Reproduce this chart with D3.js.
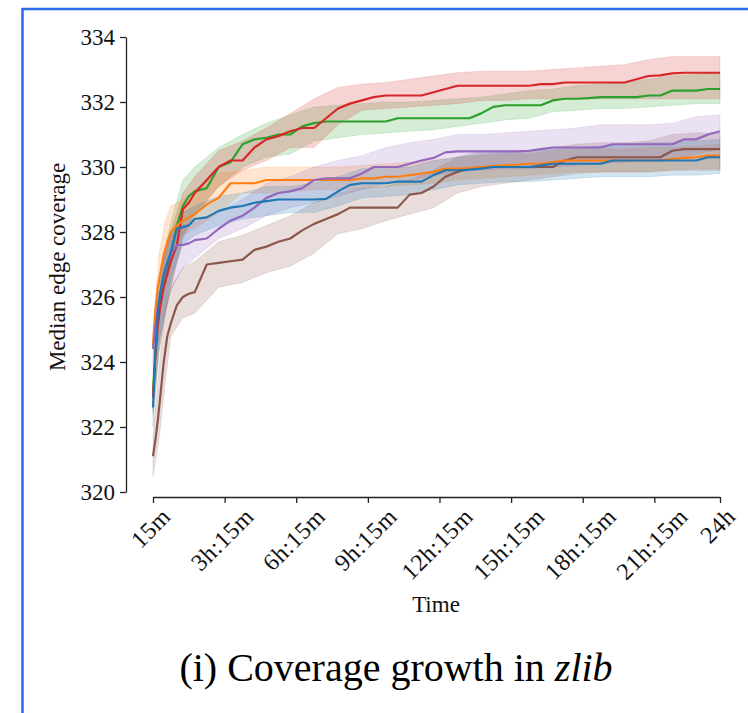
<!DOCTYPE html>
<html>
<head>
<meta charset="utf-8">
<script src="https://cdn.jsdelivr.net/npm/d3@7"></script>
<style>
    body {
        margin: 0;
        background: #fff;
        font-family: "Liberation Serif", "Times New Roman", serif;
    }
    svg { display: block; }
</style>
</head>
<body>
<svg id="chart" width="748" height="713"></svg>
<script>
// time in hours for the median lines
const lineTimes = [0.25, 0.35, 0.45, 0.55, 0.7, 0.85, 1, 1.25, 1.5, 1.75, 2,
    2.5, 3, 3.5, 4, 4.5, 5, 5.5, 6, 6.5, 7, 7.5, 8, 8.5, 9, 9.5, 10, 10.5, 11, 11.5, 12,
    12.5, 13, 13.5, 14, 14.5, 15, 15.5, 16, 16.5, 17, 17.5, 18, 18.5, 19, 19.5, 20,
    20.5, 21, 21.5, 22, 22.5, 23, 23.5, 24];

const redMedian = [322.9, 324.2, 325.1, 325.7, 326.3, 326.7, 327.1, 327.6, 328.7, 328.9, 329.2,
    329.6, 330.0, 330.2, 330.2, 330.6, 330.85, 330.95, 331.1, 331.2, 331.2, 331.5, 331.8, 331.95, 332.05, 332.15, 332.2, 332.2, 332.2, 332.2, 332.3,
    332.4, 332.5, 332.5, 332.5, 332.5, 332.5, 332.5, 332.5, 332.55, 332.55, 332.6, 332.6, 332.6, 332.6, 332.6, 332.6,
    332.7, 332.8, 332.82, 332.88, 332.9, 332.9, 332.9, 332.9];
const greenMedian = [323.05, 324.3, 325.2, 325.9, 326.5, 326.9, 327.3, 328.2, 328.8, 329.1, 329.25,
    329.35, 330.0, 330.15, 330.7, 330.85, 330.9, 331.0, 331.0, 331.25, 331.35, 331.4, 331.4, 331.4, 331.4, 331.4, 331.4, 331.5, 331.5, 331.5, 331.5,
    331.5, 331.5, 331.5, 331.65, 331.85, 331.9, 331.9, 331.9, 331.9, 332.05, 332.1, 332.1, 332.12, 332.15, 332.15, 332.15,
    332.15, 332.2, 332.2, 332.35, 332.35, 332.35, 332.4, 332.4];
const orangeMedian = [324.5, 325.6, 326.3, 326.7, 327.3, 327.7, 328.0, 328.2, 328.35, 328.45, 328.55,
    328.85, 329.05, 329.5, 329.5, 329.5, 329.6, 329.6, 329.6, 329.6, 329.6, 329.6, 329.6, 329.6, 329.65, 329.65, 329.7, 329.7, 329.75, 329.8, 329.85,
    329.95, 329.95, 329.97, 330.0, 330.03, 330.05, 330.07, 330.1, 330.1, 330.15, 330.2, 330.2, 330.2, 330.2, 330.2, 330.2,
    330.2, 330.2, 330.2, 330.25, 330.28, 330.3, 330.35, 330.35];
const blueMedian = [322.6, 324.3, 325.5, 326.1, 326.7, 327.05, 327.4, 328.1, 328.15, 328.2, 328.4,
    328.45, 328.65, 328.75, 328.8, 328.9, 328.95, 329.0, 329.0, 329.0, 329.0, 329.02, 329.25, 329.45, 329.5, 329.5, 329.5, 329.55, 329.55, 329.55, 329.75,
    329.9, 329.9, 329.92, 329.95, 330.0, 330.0, 330.0, 330.0, 330.05, 330.1, 330.1, 330.1, 330.1, 330.1, 330.2, 330.2,
    330.2, 330.2, 330.2, 330.2, 330.2, 330.2, 330.3, 330.3];
const purpleMedian = [324.4, 325.1, 325.7, 326.1, 326.6, 327.0, 327.3, 327.6, 327.6, 327.65, 327.75,
    327.8, 328.1, 328.35, 328.5, 328.75, 329.05, 329.2, 329.25, 329.35, 329.6, 329.65, 329.65, 329.65, 329.8, 330.0, 330.0, 330.0, 330.1, 330.2, 330.28,
    330.45, 330.48, 330.48, 330.48, 330.48, 330.48, 330.48, 330.5, 330.55, 330.6, 330.6, 330.6, 330.6, 330.6, 330.7, 330.7,
    330.7, 330.7, 330.7, 330.7, 330.85, 330.85, 331.0, 331.1];
const brownMedian = [321.1, 321.6, 322.2, 322.9, 324.0, 324.8, 325.2, 325.75, 326.0, 326.1, 326.15,
    327.0, 327.05, 327.1, 327.15, 327.45, 327.55, 327.7, 327.8, 328.05, 328.25, 328.4, 328.55, 328.75, 328.75, 328.75, 328.75, 328.75, 329.15, 329.2, 329.4,
    329.7, 329.85, 329.95, 330.0, 330.0, 330.0, 330.0, 330.0, 330.0, 330.0, 330.2, 330.3, 330.3, 330.3, 330.3, 330.3,
    330.3, 330.3, 330.3, 330.5, 330.55, 330.55, 330.55, 330.55];

// confidence bands, sampled on a coarser grid
const bandTimes = [0.25, 0.5, 0.75, 1, 1.5, 2, 3, 4, 5, 6, 7, 8, 9, 10, 11, 12, 13, 14, 15, 16, 17, 18, 19, 20, 21, 22, 23, 24];

const redLow  = [322.4, 324.3, 325.4, 326.3, 327.8, 328.5, 329.4, 329.9, 330.2, 330.6, 330.6, 331.3, 331.75, 331.8, 331.85, 331.9, 331.95, 332.05, 332.05, 332.1, 332.1, 332.1, 332.1, 332.1, 332.1, 332.1, 332.1, 332.1];
const redHigh = [323.4, 326.0, 327.2, 328.0, 329.2, 329.7, 330.5, 330.8, 331.2, 331.65, 332.1, 332.45, 332.55, 332.6, 332.7, 332.8, 332.9, 332.95, 332.95, 332.95, 333.0, 333.05, 333.1, 333.15, 333.3, 333.4, 333.4, 333.4];
const greenLow  = [322.5, 324.3, 325.5, 326.3, 327.9, 328.6, 329.4, 330.0, 330.3, 330.4, 330.8, 330.9, 331.0, 331.05, 331.1, 331.15, 331.25, 331.35, 331.45, 331.5, 331.7, 331.75, 331.8, 331.8, 331.85, 331.9, 331.95, 331.95];
const greenHigh = [323.6, 326.1, 327.4, 328.3, 329.6, 330.0, 330.6, 331.0, 331.35, 331.6, 331.85, 331.9, 331.95, 332.0, 332.0, 332.05, 332.1, 332.15, 332.25, 332.35, 332.4, 332.5, 332.55, 332.6, 332.7, 332.8, 332.85, 332.9];
const orangeLow  = [324.0, 325.5, 326.8, 327.4, 327.9, 328.1, 328.6, 329.2, 329.2, 329.25, 329.3, 329.3, 329.35, 329.4, 329.45, 329.5, 329.6, 329.65, 329.7, 329.75, 329.8, 329.85, 329.85, 329.85, 329.85, 329.9, 329.95, 329.95];
const orangeHigh = [325.0, 327.3, 328.3, 328.8, 329.0, 329.3, 329.8, 329.9, 330.0, 330.0, 330.0, 330.0, 330.05, 330.1, 330.15, 330.2, 330.3, 330.35, 330.4, 330.4, 330.5, 330.55, 330.55, 330.55, 330.6, 330.6, 330.65, 330.7];
const blueLow  = [322.0, 324.6, 325.6, 326.6, 327.6, 327.9, 328.2, 328.4, 328.5, 328.6, 328.6, 328.8, 329.05, 329.1, 329.15, 329.3, 329.45, 329.5, 329.55, 329.55, 329.6, 329.65, 329.7, 329.7, 329.7, 329.75, 329.75, 329.8];
const blueHigh = [323.2, 326.6, 327.3, 328.0, 328.6, 328.8, 329.1, 329.2, 329.4, 329.4, 329.5, 329.7, 329.95, 330.0, 330.0, 330.2, 330.3, 330.4, 330.45, 330.5, 330.55, 330.6, 330.65, 330.7, 330.75, 330.75, 330.8, 330.85];
const purpleLow  = [323.6, 324.6, 325.5, 326.2, 326.9, 327.2, 327.8, 328.1, 328.5, 328.75, 328.9, 329.1, 329.3, 329.5, 329.6, 329.75, 329.85, 329.9, 329.95, 329.95, 330.0, 330.05, 330.1, 330.15, 330.2, 330.25, 330.4, 330.55];
const purpleHigh = [324.9, 326.4, 327.3, 327.9, 328.2, 328.3, 328.6, 329.0, 329.5, 329.7, 330.0, 330.2, 330.35, 330.6, 330.75, 330.85, 331.0, 331.0, 331.05, 331.1, 331.15, 331.2, 331.3, 331.3, 331.3, 331.35, 331.55, 331.6];
const brownLow  = [320.5, 321.6, 323.3, 324.8, 325.35, 325.5, 326.3, 326.45, 326.75, 326.95, 327.35, 327.95, 328.1, 328.35, 328.55, 328.75, 329.2, 329.4, 329.5, 329.6, 329.7, 329.8, 329.85, 329.85, 329.85, 329.9, 329.9, 329.9];
const brownHigh = [321.7, 323.8, 325.6, 326.3, 326.9, 327.1, 327.7, 327.9, 328.2, 328.5, 328.9, 329.2, 329.35, 329.4, 329.6, 329.9, 330.3, 330.5, 330.5, 330.5, 330.6, 330.7, 330.75, 330.75, 330.8, 331.0, 331.05, 331.05];

const yTicks = [320, 322, 324, 326, 328, 330, 332, 334];
const xTickHours = [0.25, 3.25, 6.25, 9.25, 12.25, 15.25, 18.25, 21.25, 24];
const xTickLabels = ["15m", "3h:15m", "6h:15m", "9h:15m", "12h:15m", "15h:15m", "18h:15m", "21h:15m", "24h"];

// draw order matters: later ones sit on top
const series = [
    {color: "#2ca02c", median: greenMedian, low: greenLow, high: greenHigh},
    {color: "#d62728", median: redMedian, low: redLow, high: redHigh},
    {color: "#8c564b", median: brownMedian, low: brownLow, high: brownHigh},
    {color: "#ff7f0e", median: orangeMedian, low: orangeLow, high: orangeHigh},
    {color: "#9467bd", median: purpleMedian, low: purpleLow, high: purpleHigh},
    {color: "#1f77b4", median: blueMedian, low: blueLow, high: blueHigh}
];

const svg = d3.select("#chart");

// blue frame around the figure (only top + left visible)
svg.append("line").attr("x1", 22).attr("x2", 748).attr("y1", 9).attr("y2", 9)
    .attr("stroke", "#2a6ae8").attr("stroke-width", 2.5);
svg.append("line").attr("x1", 22.5).attr("x2", 22.5).attr("y1", 8).attr("y2", 713)
    .attr("stroke", "#2a6ae8").attr("stroke-width", 2.5);

const x = d3.scaleLinear().domain([0.25, 24]).range([153, 720]);
const y = d3.scaleLinear().domain([320, 334]).range([492, 37]);

const area = d3.area()
    .x(d => x(d.t))
    .y0(d => y(d.lo))
    .y1(d => y(d.hi));
const line = d3.line()
    .x(d => x(d.t))
    .y(d => y(d.v));

const bands = svg.append("g");
series.forEach(s => {
    let pts = bandTimes.map((t, i) => ({t: t, lo: s.low[i], hi: s.high[i]}));
    bands.append("path")
        .attr("d", area(pts))
        .attr("fill", s.color)
        .attr("fill-opacity", 0.2)
        .attr("stroke", s.color)
        .attr("stroke-opacity", 0.15)
        .attr("stroke-width", 1);
});

const lines = svg.append("g");
series.forEach(s => {
    let pts = lineTimes.map((t, i) => ({t: t, v: s.median[i]}));
    lines.append("path")
        .attr("d", line(pts))
        .attr("fill", "none")
        .attr("stroke", s.color)
        .attr("stroke-width", 2.2)
        .attr("stroke-linejoin", "round");
});

// y axis, offset to the left of the data
const yAxis = svg.append("g")
    .attr("transform", "translate(126,0)")
    .call(d3.axisLeft(y).tickValues(yTicks).tickSize(6).tickSizeOuter(0).tickPadding(5).tickFormat(d3.format("d")));

// x axis, offset below the data
const xAxis = svg.append("g")
    .attr("transform", "translate(0,497)")
    .call(d3.axisBottom(x).tickValues(xTickHours).tickSize(6).tickSizeOuter(0)
        .tickFormat((d, i) => xTickLabels[i]));

[yAxis, xAxis].forEach(ax => {
    ax.select(".domain").attr("stroke", "#222").attr("stroke-width", 1.3);
    ax.selectAll(".tick line").attr("stroke", "#222").attr("stroke-width", 1.3);
    ax.selectAll("text")
        .attr("font-family", "Liberation Serif, serif")
        .attr("font-size", 23)
        .attr("fill", "#111");
});

// rotate the x labels by 45deg, keeping their box centred under the tick
xAxis.selectAll(".tick text")
    .attr("font-size", 24)
    .attr("letter-spacing", 0.6)
    .each(function() {
        let w = this.getComputedTextLength();
        let h = (w + 17) * Math.SQRT1_2;
        d3.select(this)
            .attr("text-anchor", "middle")
            .attr("y", 0)
            .attr("dy", "0.35em")
            .attr("transform", "translate(-3," + (9 + h / 2) + ") rotate(-45)");
    });

svg.append("text")
    .attr("x", 436).attr("y", 612)
    .attr("text-anchor", "middle")
    .attr("font-size", 23)
    .attr("fill", "#111")
    .text("Time");

svg.append("text")
    .attr("transform", "translate(65,267) rotate(-90)")
    .attr("text-anchor", "middle")
    .attr("font-size", 23)
    .attr("fill", "#111")
    .text("Median edge coverage");

const title = svg.append("text")
    .attr("x", 396).attr("y", 681)
    .attr("text-anchor", "middle")
    .attr("font-size", 40)
    .attr("fill", "#000");
title.append("tspan").text("(i) Coverage growth in ");
title.append("tspan").attr("font-style", "italic").text("zlib");
</script>
</body>
</html>
